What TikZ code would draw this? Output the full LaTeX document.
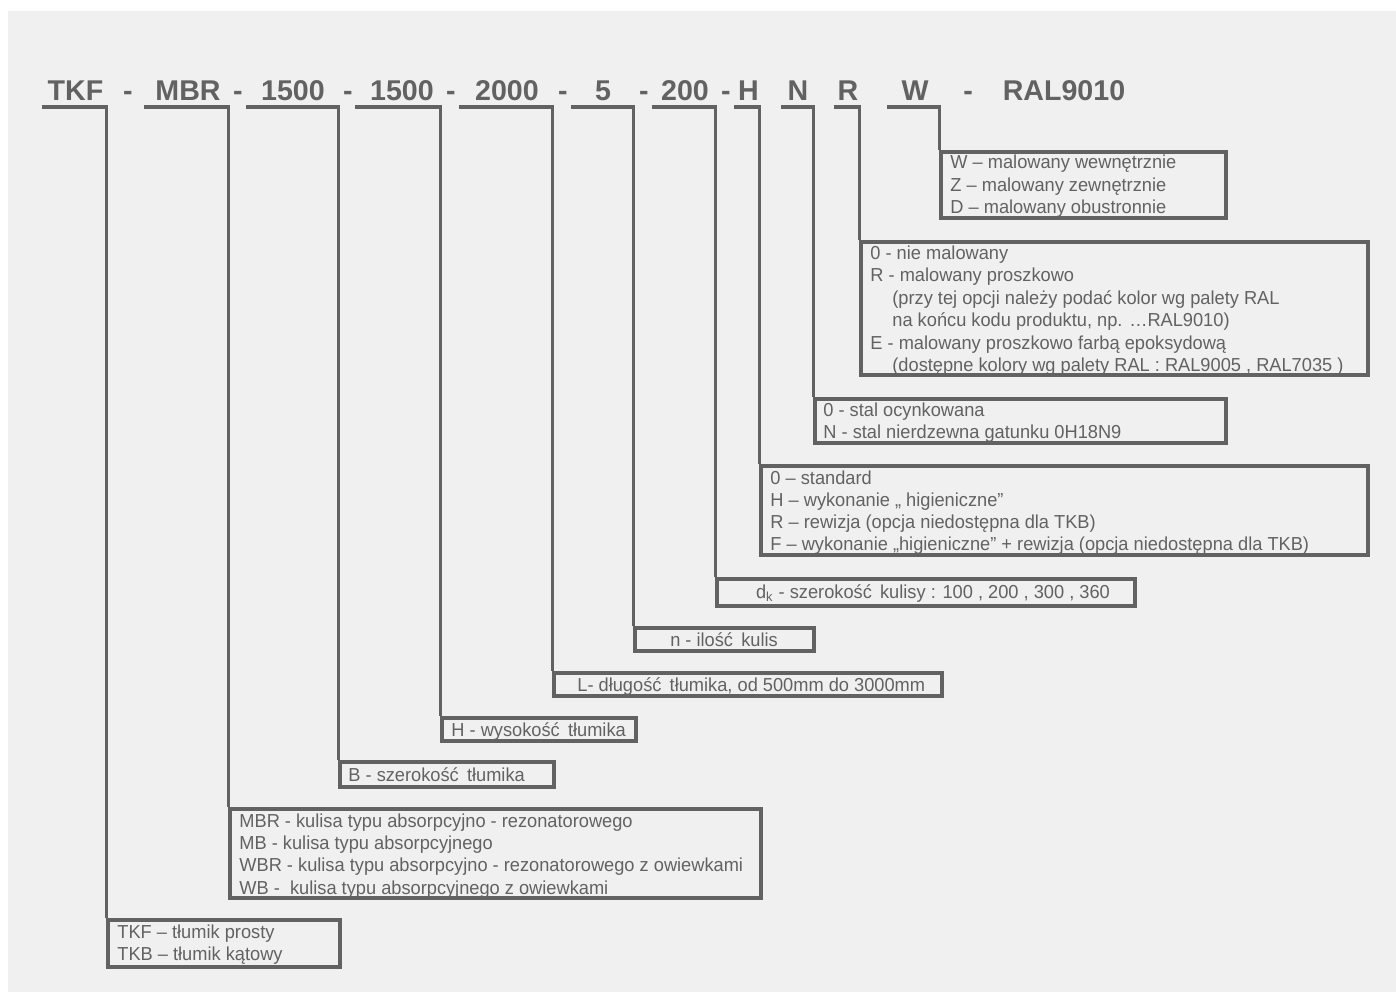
\documentclass[tikz,border=0pt]{standalone}
\usepackage{fontspec}
\setmainfont{Liberation Sans}
\newfontfamily\boxfont[FakeStretch=0.97]{Liberation Sans}
\usetikzlibrary{fit}
\definecolor{bg}{HTML}{F0F0F0}
\definecolor{ink}{HTML}{626262}
\begin{document}
\begin{tikzpicture}[x=0.5pt,y=-0.5pt,
 hd/.style={anchor=base,inner sep=0,text=ink,font=\fontsize{14.3}{16}\selectfont\bfseries},
 tx/.style={anchor=base west,inner sep=0,text=ink,font=\boxfont\fontsize{9.4}{11}\selectfont},
 txc/.style={tx,anchor=base},
 ln/.style={draw=ink,line width=1.75pt},
 bx/.style={ln,inner sep=0,fit={#1}}]
\useasboundingbox (0,0) rectangle (1396,992);
\fill[bg] (8,11) rectangle (1396,992);
% header
\node[hd] (hTKF) at (75.5,100) {TKF};
\node[hd] (d1) at (128,100) {-};
\node[hd] (hMBR) at (188,100) {MBR};
\node[hd] (d2) at (238,100) {-};
\node[hd] (hB) at (293,100) {1500};
\node[hd] (d3) at (348,100) {-};
\node[hd] (hH) at (402,100) {1500};
\node[hd] (d4) at (451,100) {-};
\node[hd] (hL) at (507,100) {2000};
\node[hd] (d5) at (563,100) {-};
\node[hd] (hn) at (603,100) {5};
\node[hd] (d6) at (644,100) {-};
\node[hd] (hdk) at (685,100) {200};
\node[hd] (d7) at (726,100) {-};
\node[hd] (hX) at (748.5,100) {H};
\node[hd] (hN) at (798,100) {N};
\node[hd] (hR) at (848,100) {R};
\node[hd] (hW) at (915,100) {W};
\node[hd] (d8) at (968,100) {-};
\node[hd] (hRAL) at (1064,100) {RAL9010};
% underline starts
\coordinate (uTKF) at (42,107);
\coordinate (uMBR) at (144,107);
\coordinate (uB) at (246,107);
\coordinate (uH) at (355,107);
\coordinate (uL) at (459,107);
\coordinate (un) at (571,107);
\coordinate (udk) at (652,107);
\coordinate (uX) at (734,107);
\coordinate (uN) at (781,107);
\coordinate (uR) at (834,107);
\coordinate (uW) at (887,107);
% boxes
\node[bx={(108,920)(340,967)}] (bTKF) {};
\node[bx={(230,809)(761,898)}] (bMBR) {};
\node[bx={(340,762)(554,787)}] (bB) {};
\node[bx={(442,718)(636,741)}] (bH) {};
\node[bx={(554,673)(942,696)}] (bL) {};
\node[bx={(635,628)(814,651)}] (bn) {};
\node[bx={(717,579)(1135,606)}] (bdk) {};
\node[bx={(761,466)(1368,555)}] (bX) {};
\node[bx={(815,399)(1226,443)}] (bN) {};
\node[bx={(861,242)(1368,375)}] (bR) {};
\node[bx={(941,152)(1226,218)}] (bW) {};
% connectors
\draw[ln] (uTKF) -| (bTKF.north west);
\draw[ln] (uMBR) -| (bMBR.north west);
\draw[ln] (uB) -| (bB.north west);
\draw[ln] (uH) -| (bH.north west);
\draw[ln] (uL) -| (bL.north west);
\draw[ln] (un) -| (bn.north west);
\draw[ln] (udk) -| (bdk.north west);
\draw[ln] (uX) -| (bX.north west);
\draw[ln] (uN) -| (bN.north west);
\draw[ln] (uR) -| (bR.north west);
\draw[ln] (uW) -| (bW.north west);
% texts
\node[tx] (w1) at (950,168) {W – malowany wewnętrznie};
\node[tx] (w2) at (950,191) {Z – malowany zewnętrznie};
\node[tx] (w3) at (950,213) {D – malowany obustronnie};
\node[tx] (r1) at (870,259) {0 - nie malowany};
\node[tx] (r2) at (870,281.5) {R - malowany proszkowo};
\node[tx] (r3) at (892,304) {(przy tej opcji należy podać kolor wg palety RAL};
\node[tx] (r4) at (892,326.5) {na końcu kodu produktu, np. …RAL9010)};
\node[tx] (r5) at (870,349) {E - malowany proszkowo farbą epoksydową};
\node[tx] (r6) at (892,371) {(dostępne kolory wg palety RAL : RAL9005 , RAL7035 )};
\node[tx] (n1) at (823,416) {0 - stal ocynkowana};
\node[tx] (n2) at (823,438) {N - stal nierdzewna gatunku 0H18N9};
\node[tx] (x1) at (770,484) {0 – standard};
\node[tx] (x2) at (770,506) {H – wykonanie „ higieniczne”};
\node[tx] (x3) at (770,528) {R – rewizja (opcja niedostępna dla TKB)};
\node[tx] (x4) at (770,550) {F – wykonanie „higieniczne” + rewizja (opcja niedostępna dla TKB)};
\node[txc] (k1) at (933,598) {d\textsubscript{k} - szerokość\, kulisy : 100 , 200 , 300 , 360};
\node[txc] (m1) at (724,646) {n - ilość\, kulis};
\node[tx] (l1) at (577,691) {L- długość\, tłumika, od 500mm do 3000mm};
\node[tx] (h1) at (451,736) {H - wysokość\, tłumika};
\node[tx] (s1) at (348,781) {B - szerokość\, tłumika};
\node[tx] (a1) at (239,827) {MBR - kulisa typu absorpcyjno - rezonatorowego};
\node[tx] (a2) at (239,849) {MB - kulisa typu absorpcyjnego};
\node[tx] (a3) at (239,871.5) {WBR - kulisa typu absorpcyjno - rezonatorowego z owiewkami};
\node[tx] (a4) at (239,894) {WB -\ \ kulisa typu absorpcyjnego z owiewkami};
\node[tx] (t1) at (117,938) {TKF – tłumik prosty};
\node[tx] (t2) at (117,960) {TKB – tłumik kątowy};
\end{tikzpicture}
\end{document}
